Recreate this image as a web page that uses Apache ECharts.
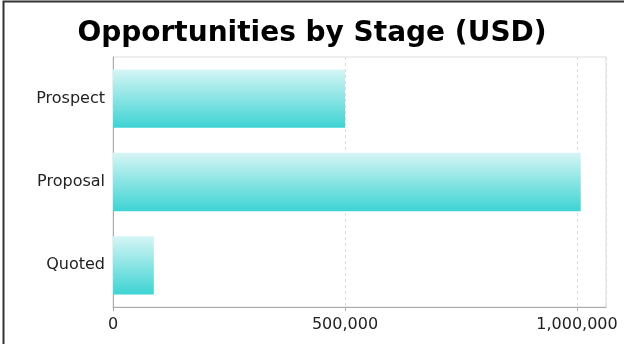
<!DOCTYPE html>
<html><head><meta charset="utf-8">
<script src="https://cdn.jsdelivr.net/npm/echarts@6/dist/echarts.min.js"></script>
<style>html,body{margin:0;padding:0;background:#fff}#c{width:624px;height:344px}</style>
</head><body><div id="c"></div>
<script>
const categories = ['Prospect', 'Proposal', 'Quoted'];
const values = [500000, 1008000, 88000];
const xTicks = [0, 500000, 1000000];

const chart = echarts.init(document.getElementById('c'), null, {renderer: 'canvas'});
chart.setOption({
  animation: false,
  title: {
    text: 'Opportunities by Stage (USD)',
    left: 'center', top: 15,
    textStyle: {fontFamily: 'DejaVu Sans', fontWeight: 'bold', fontSize: 28, color: '#000'}
  },
  graphic: [{
    type: 'rect', shape: {x: 3.5, y: 1.5, width: 700, height: 500},
    style: {fill: 'none', stroke: '#333', lineWidth: 2}, silent: true
  }],
  grid: {left: 113, right: 18, top: 57, bottom: 37, show: true, borderColor: '#ddd', borderWidth: 1},
  xAxis: {
    type: 'value', min: 0, max: 1062500, interval: 500000,
    axisLine: {show: true, lineStyle: {color: '#aaa'}},
    axisTick: {show: true, length: 4, lineStyle: {color: '#aaa'}},
    splitLine: {show: true, lineStyle: {color: '#ddd', type: [3, 3]}},
    axisLabel: {
      fontFamily: 'DejaVu Sans', fontSize: 16, color: '#222', margin: 10,
      showMaxLabel: false,
      formatter: v => xTicks.includes(v) ? v.toLocaleString('en-US') : ''
    }
  },
  yAxis: {
    type: 'category', data: categories, inverse: true,
    axisLine: {show: true, lineStyle: {color: '#aaa'}},
    axisTick: {show: false},
    axisLabel: {fontFamily: 'DejaVu Sans', fontSize: 16, color: '#222', margin: 8}
  },
  series: [{
    type: 'bar', data: values, barCategoryGap: '30%',
    itemStyle: {
      color: new echarts.graphic.LinearGradient(0, 0, 0, 1, [
        {offset: 0, color: '#d6f5f5'},
        {offset: 1, color: '#3ed3d3'}
      ])
    }
  }]
});
</script></body></html>
